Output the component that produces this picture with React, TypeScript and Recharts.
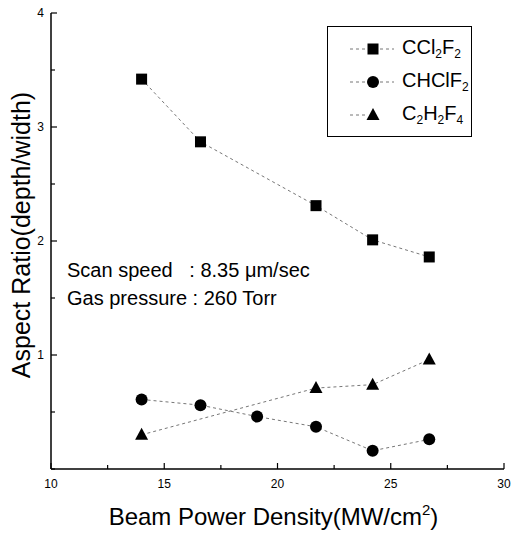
import { ScatterChart, Scatter, XAxis, YAxis, Legend, Label } from "recharts";

// Beam power density (MW/cm²) vs aspect ratio
const ccl2f2X = [14, 16.6, 21.7, 24.2, 26.7];
const ccl2f2Y = [3.42, 2.87, 2.31, 2.01, 1.86];

const chclf2X = [14, 16.6, 19.1, 21.7, 24.2, 26.7];
const chclf2Y = [0.61, 0.56, 0.46, 0.37, 0.16, 0.26];

const c2h2f4X = [14, 21.7, 24.2, 26.7];
const c2h2f4Y = [0.3, 0.71, 0.74, 0.96];

const seriesNames = ["CCl2F2", "CHClF2", "C2H2F4"];

const xTicks = [10, 12.5, 15, 17.5, 20, 22.5, 25, 27.5, 30];
const xLabels = [10, 15, 20, 25, 30];
const yTicks = [0, 0.5, 1, 1.5, 2, 2.5, 3, 3.5, 4];
const yLabels = [1, 2, 3, 4];

const FONT = "'Liberation Sans', Arial, sans-serif";
const LINE = { stroke: "#777", strokeWidth: 1, strokeDasharray: "3 3" };

const zip = (xs: number[], ys: number[]) => xs.map((x, i) => ({ x, y: ys[i] }));

// ── markers ────────────────────────────────────────────────────────────────

type ShapeProps = { cx?: number; cy?: number };

function Square({ cx = 0, cy = 0 }: ShapeProps) {
  return <rect x={cx - 5.5} y={cy - 5.5} width={11} height={11} fill="#000" />;
}

function Dot({ cx = 0, cy = 0 }: ShapeProps) {
  return <circle cx={cx} cy={cy} r={6} fill="#000" />;
}

function Triangle({ cx = 0, cy = 0 }: ShapeProps) {
  return <polygon points={`${cx},${cy - 7} ${cx + 6.5},${cy + 5} ${cx - 6.5},${cy + 5}`} fill="#000" />;
}

const markers = [Square, Dot, Triangle];

// chemical formula: digits become subscripts
function Formula({ text }: { text: string }) {
  return (
    <>
      {text.split(/(\d)/).map((p, i) =>
        /\d/.test(p) ? (
          <sub key={i} style={{ fontSize: "0.6em", verticalAlign: "-0.35em" }}>{p}</sub>
        ) : (
          <span key={i}>{p}</span>
        )
      )}
    </>
  );
}

// ── ticks pointing into the plot ───────────────────────────────────────────

function XTick(props: any) {
  const { x, y, payload } = props;
  const major = xLabels.includes(payload.value);
  return (
    <g>
      <path d={`M${x},${y}V${y - (major ? 6 : 4)}`} stroke="#000" strokeWidth={1.2} fill="none" />
      {major && (
        <text x={x} y={y + 19} textAnchor="middle" fontSize={12} fontFamily={FONT} fill="#000">
          {payload.value}
        </text>
      )}
    </g>
  );
}

function YTick(props: any) {
  const { x, y, payload } = props;
  const major = yLabels.includes(payload.value);
  return (
    <g>
      <path d={`M${x},${y}H${x + (major ? 6 : 4)}`} stroke="#000" strokeWidth={1.2} fill="none" />
      {major && (
        <text x={x - 7} y={y + 4} textAnchor="end" fontSize={12} fontFamily={FONT} fill="#000">
          {payload.value}
        </text>
      )}
    </g>
  );
}

function LegendBox({ payload }: { payload?: { value: string }[] }) {
  const items = [...(payload ?? [])].sort(
    (a, b) => seriesNames.indexOf(a.value) - seriesNames.indexOf(b.value)
  );
  return (
    <div
      style={{
        width: 145,
        height: 111,
        border: "1.5px solid #000",
        background: "#fff",
        fontFamily: FONT,
        fontSize: 20,
        boxSizing: "border-box",
        paddingTop: 5,
      }}
    >
      {items.map((p) => {
        const idx = seriesNames.indexOf(p.value);
        const M = markers[idx] ?? Square;
        return (
          <div key={p.value} style={{ display: "flex", alignItems: "center", height: 33 }}>
            <svg width={74} height={20} style={{ flex: "none" }}>
              <line x1={22} x2={38} y1={10} y2={10} {...LINE} />
              {idx !== 2 && <line x1={52} x2={66} y1={10} y2={10} {...LINE} />}
              <M cx={45} cy={10} />
            </svg>
            <span style={{ whiteSpace: "nowrap" }}>
              <Formula text={p.value} />
            </span>
          </div>
        );
      })}
    </div>
  );
}

export default function App() {
  return (
    <div style={{ position: "absolute", left: 0, top: 0, width: 512, height: 537, background: "#fff" }}>
      <ScatterChart width={512} height={537} margin={{ top: 13, right: 8, bottom: 38, left: 11 }}>
        <XAxis
          xAxisId="b"
          type="number"
          dataKey="x"
          domain={[10, 30]}
          ticks={xTicks}
          interval={0}
          tickSize={0}
          tickMargin={0}
          tick={XTick}
          axisLine={{ stroke: "#000", strokeWidth: 1.5 }}
          height={30}
        >
          <Label
            position="bottom"
            content={({ viewBox }: any) => (
              <text
                x={viewBox.x + viewBox.width / 2 - 4}
                y={viewBox.y + viewBox.height + 26}
                textAnchor="middle"
                fontSize={24}
                fontFamily={FONT}
                fill="#000"
              >
                Beam Power Density(MW/cm
                <tspan dy={-10} fontSize={15}>2</tspan>
                <tspan dy={10}>)</tspan>
              </text>
            )}
          />
        </XAxis>
        <XAxis xAxisId="t" orientation="top" type="number" dataKey="x" domain={[10, 30]} tick={false} tickLine={false} height={0} axisLine={{ stroke: "#000", strokeWidth: 1.5 }} />
        <YAxis
          yAxisId="l"
          type="number"
          dataKey="y"
          domain={[0, 4]}
          ticks={yTicks}
          interval={0}
          tickSize={0}
          tickMargin={0}
          tick={YTick}
          axisLine={{ stroke: "#000", strokeWidth: 1.5 }}
          width={40}
        >
          <Label
            position="left"
            content={({ viewBox }: any) => {
              const cx = viewBox.x + 10;
              const cy = viewBox.y + viewBox.height / 2 - 6;
              return (
                <text
                  x={cx}
                  y={cy}
                  transform={`rotate(-90 ${cx} ${cy})`}
                  textAnchor="middle"
                  dominantBaseline="central"
                  fontSize={25}
                  fontFamily={FONT}
                  fill="#000"
                >
                  Aspect Ratio(depth/width)
                </text>
              );
            }}
          />
        </YAxis>
        <YAxis yAxisId="r" orientation="right" type="number" dataKey="y" domain={[0, 4]} tick={false} tickLine={false} width={0} axisLine={{ stroke: "#000", strokeWidth: 1.5 }} />
        <Legend
          layout="vertical"
          align="center"
          verticalAlign="middle"
          content={LegendBox as any}
          wrapperStyle={{ left: 327, top: 26, width: 145, height: 111 }}
        />
        <Scatter xAxisId="b" yAxisId="l" name={seriesNames[0]} data={zip(ccl2f2X, ccl2f2Y)} line={LINE} shape={Square} isAnimationActive={false} />
        <Scatter xAxisId="b" yAxisId="l" name={seriesNames[1]} data={zip(chclf2X, chclf2Y)} line={LINE} shape={Dot} isAnimationActive={false} />
        <Scatter xAxisId="b" yAxisId="l" name={seriesNames[2]} data={zip(c2h2f4X, c2h2f4Y)} line={LINE} shape={Triangle} isAnimationActive={false} />
      </ScatterChart>
      <div
        style={{
          position: "absolute",
          left: 67,
          top: 256,
          fontFamily: FONT,
          fontSize: 20,
          lineHeight: "28px",
          color: "#000",
          whiteSpace: "pre",
        }}
      >
        <div>Scan speed   : 8.35 μm/sec</div>
        <div>Gas pressure : 260 Torr</div>
      </div>
    </div>
  );
}
